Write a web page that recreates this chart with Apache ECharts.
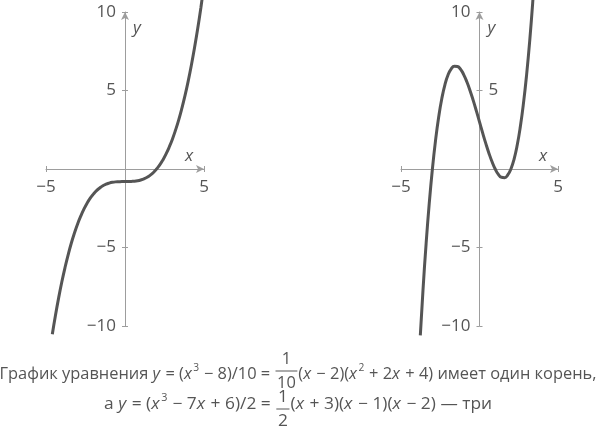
<!DOCTYPE html>
<html><head><meta charset="utf-8">
<script src="https://cdn.jsdelivr.net/npm/echarts@6/dist/echarts.min.js"></script>
<style>html,body{margin:0;padding:0;background:#fff}#c{width:600px;height:428px}</style>
</head><body><div id="c"></div>
<script>
// ---- data ----
const leftX = [-4.6,-4.4,-4.2,-4.0,-3.8,-3.6,-3.4,-3.2,-3.0,-2.8,-2.6,-2.4,-2.2,-2.0,-1.8,-1.6,-1.4,-1.2,-1.0,-0.8,-0.6,-0.4,-0.2,0,0.2,0.4,0.6,0.8,1.0,1.2,1.4,1.6,1.8,2.0,2.2,2.4,2.6,2.8,3.0,3.2,3.4,3.6,3.8,4.0,4.2,4.4,4.6,4.8,5.0];
const leftY = [-10.53,-9.32,-8.21,-7.20,-6.29,-5.47,-4.73,-4.08,-3.50,-3.00,-2.56,-2.18,-1.86,-1.60,-1.38,-1.21,-1.07,-0.97,-0.90,-0.85,-0.82,-0.81,-0.80,-0.80,-0.80,-0.79,-0.78,-0.75,-0.70,-0.63,-0.53,-0.39,-0.22,0,0.26,0.58,0.96,1.40,1.90,2.48,3.13,3.87,4.69,5.60,6.61,7.72,8.93,10.26,11.70];
const rightX = [-3.77,-3.6,-3.4,-3.2,-3.0,-2.8,-2.6,-2.4,-2.2,-2.0,-1.8,-1.6,-1.4,-1.2,-1.0,-0.8,-0.6,-0.4,-0.2,0,0.2,0.4,0.6,0.8,1.0,1.2,1.4,1.6,1.8,2.0,2.2,2.4,2.6,2.8,3.0,3.2,3.4,3.6];
const rightY = [-10.60,-7.73,-4.75,-2.18,0,1.82,3.31,4.49,5.38,6.00,6.38,6.55,6.53,6.34,6.00,5.54,4.99,4.37,3.70,3.00,2.30,1.63,1.01,0.46,0,-0.34,-0.53,-0.55,-0.38,0,0.62,1.51,2.69,4.18,6.00,8.18,10.75,13.73];

const xRange = [-5, 5];
const yRange = [-10, 10];
const tickStep = 5;
const xTickLabels = [-5, 5];
const leftYLabelsLeft = [10, 5, -5, -10];
const leftYLabelsRight = [];
const rightYLabelsLeft = [10, -5, -10];
const rightYLabelsRight = [5];
const axisNames = ['x', 'y'];

const caption1 = [['n','График уравнения '],['i','y'],['n',' = ('],['i','x'],['s','3'],['n',' − 8)/10 = '],['f','1','10'],['n','('],['i','x'],['n',' − 2)('],['i','x'],['s','2'],['n',' + 2'],['i','x'],['n',' + 4) имеет один корень,']];
const caption2 = [['n','а '],['i','y'],['n',' = ('],['i','x'],['s','3'],['n',' − 7'],['i','x'],['n',' + 6)/2 = '],['f','1','2'],['n','('],['i','x'],['n',' + 3)('],['i','x'],['n',' − 1)('],['i','x'],['n',' − 2) — три']];

// ---- styles ----
const FF = '"Open Sans", "Noto Sans", sans-serif';
const AX = '#9d9d9d';
const LB = '#555555';
const CURVE = '#555555';
const fmt = v => String(v).replace('-', '−');

const grids = [
  {left: 46, top: 12, width: 158, height: 314},
  {left: 401, top: 12, width: 157, height: 314}
];
const yLeftLists = [leftYLabelsLeft, rightYLabelsLeft];
const yRightLists = [leftYLabelsRight, rightYLabelsRight];

const xAxes = [], yAxes = [];
grids.forEach((g, gi) => {
  xAxes.push({
    gridIndex: gi, type: 'value', min: xRange[0], max: xRange[1], interval: tickStep, position: 'bottom',
    axisLine: {onZero: true, symbol: ['none', 'arrow'], symbolSize: [6, 8], lineStyle: {color: AX, width: 1}},
    axisTick: {show: true, length: 3, lineStyle: {color: AX}},
    axisLabel: {show: false}, splitLine: {show: false}
  });
  xAxes.push({
    gridIndex: gi, type: 'value', min: xRange[0], max: xRange[1], interval: tickStep, position: 'top',
    axisLine: {onZero: true, lineStyle: {color: 'rgba(0,0,0,0)'}},
    axisTick: {show: true, length: 3, lineStyle: {color: AX}},
    axisLabel: {show: false}, splitLine: {show: false}
  });
  yAxes.push({
    gridIndex: gi, type: 'value', min: yRange[0], max: yRange[1], interval: tickStep, position: 'left',
    axisLine: {onZero: true, symbol: ['none', 'arrow'], symbolSize: [6, 8], lineStyle: {color: AX, width: 1}},
    axisTick: {show: true, length: 3, lineStyle: {color: AX}},
    axisLabel: {show: false}, splitLine: {show: false}
  });
  yAxes.push({
    gridIndex: gi, type: 'value', min: yRange[0], max: yRange[1], interval: tickStep, position: 'right',
    axisLine: {onZero: true, lineStyle: {color: 'rgba(0,0,0,0)'}},
    axisTick: {show: true, length: 3, lineStyle: {color: AX}},
    axisLabel: {show: false}, splitLine: {show: false}
  });
});

const chart = echarts.init(document.getElementById('c'), null, {renderer: 'canvas'});
chart.setOption({
  animation: false,
  backgroundColor: '#fff',
  grid: grids,
  xAxis: xAxes,
  yAxis: yAxes,
  series: [
    {type: 'line', xAxisIndex: 0, yAxisIndex: 0, data: leftX.map((x, i) => [x, leftY[i]]),
     showSymbol: false, clip: false, smooth: true, lineStyle: {color: CURVE, width: 3}, z: 5},
    {type: 'line', xAxisIndex: 2, yAxisIndex: 2, data: rightX.map((x, i) => [x, rightY[i]]),
     showSymbol: false, clip: false, smooth: true, lineStyle: {color: CURVE, width: 3}, z: 5}
  ]
});

// ---- tick labels, axis names and caption ----
const ctx = document.createElement('canvas').getContext('2d');
const CFS = 16;
function tw(t, size, italic) { ctx.font = (italic ? 'italic ' : '') + size + 'px ' + FF; return ctx.measureText(t).width; }
function txt(t, x, y, size, italic, align) {
  return {type: 'text', x: x, y: y, style: {text: t, fill: LB, fontSize: size, fontFamily: FF, fontStyle: italic ? 'italic' : 'normal',
    align: align || 'left', textAlign: align || 'left', verticalAlign: 'middle', textVerticalAlign: 'middle'}};
}
function buildLine(segs, fr) {
  const ch = []; let x = 0;
  segs.forEach(s => {
    if (s[0] === 'f') {
      const fw = Math.max(tw(s[1], CFS), tw(s[2], CFS)) + 3;
      x += 1;
      ch.push(txt(s[1], x + fw / 2, fr.num, CFS, false, 'center'));
      ch.push(txt(s[2], x + fw / 2, fr.den, CFS, false, 'center'));
      ch.push({type: 'line', shape: {x1: x, y1: fr.bar, x2: x + fw, y2: fr.bar}, style: {stroke: LB, lineWidth: 1}});
      x += fw + 1;
    } else if (s[0] === 's') {
      ch.push(txt(s[1], x + 0.5, -6, 10, false));
      x += tw(s[1], 10) + 1;
    } else {
      const it = s[0] === 'i';
      ch.push(txt(s[1], x, 0, CFS, it));
      x += tw(s[1], CFS, it) + (it ? 1 : 0);
    }
  });
  return {w: x, ch: ch};
}
const L1 = buildLine(caption1, {num: -15, bar: -3, den: 9});
const L2 = buildLine(caption2, {num: -7, bar: 5, den: 17});
const W1 = 597, W2 = 388, CX = 298;
const sx1 = W1 / L1.w, sx2 = W2 / L2.w;

const gfx = [];
[[0, 0, 0], [2, 2, 1]].forEach(([xi, yi, gi]) => {
  const px = v => chart.convertToPixel({xAxisIndex: xi, yAxisIndex: yi}, v);
  xTickLabels.forEach(v => { const p = px([v, 0]); gfx.push(txt(fmt(v), p[0], p[1] + 18, 17, false, 'center')); });
  yLeftLists[gi].forEach(v => { const p = px([0, v]); gfx.push(txt(fmt(v), p[0] - 9, p[1], 17, false, 'right')); });
  yRightLists[gi].forEach(v => { const p = px([0, v]); gfx.push(txt(fmt(v), p[0] + 9, p[1], 17, false, 'left')); });
  const pTop = px([0, yRange[1]]);
  const pRight = px([xRange[1], 0]);
  gfx.push(txt(axisNames[1], pTop[0] + 8, pTop[1] + 16, 17, true));
  gfx.push(txt(axisNames[0], pRight[0] - 15, pRight[1] - 13, 17, true, 'center'));
});
gfx.push({type: 'group', x: CX - W1 / 2, y: 374, scaleX: sx1, children: L1.ch});
gfx.push({type: 'group', x: CX - W2 / 2, y: 404, scaleX: sx2, children: L2.ch});
chart.setOption({graphic: gfx});
</script>
</body></html>
